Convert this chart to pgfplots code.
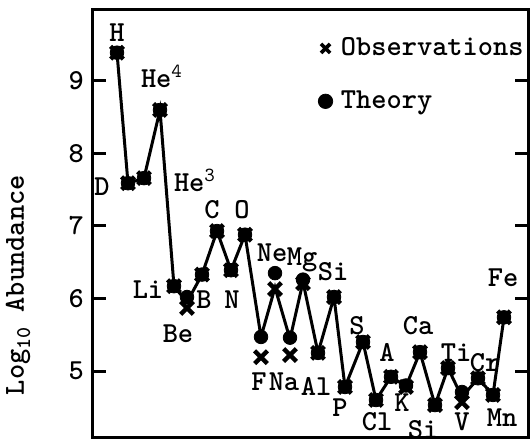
\documentclass[border=0pt]{standalone}
\usepackage{pgfplots}
\pgfplotsset{compat=1.18}
\newcommand{\lab}{\fontsize{14.5}{17}\selectfont\ttfamily\bfseries}
\pgfplotstableread{
x    obs   th    ln
117  9.39  9.39  9.39
128  7.59  7.59  7.59
144  7.66  7.66  7.66
160  8.60  8.60  8.60
174  6.17  6.17  6.17
187  5.87  6.02  5.95
202  6.33  6.33  6.33
217  6.93  6.93  6.93
231  6.39  6.39  6.39
245  6.88  6.88  6.88
261  5.19  5.47  5.47
275  6.13  6.35  6.15
290  5.22  5.46  5.44
303  6.21  6.26  6.23
318  5.25  5.25  5.25
334  6.02  6.02  6.02
345  4.78  4.78  4.78
363  5.40  5.40  5.40
376  4.60  4.60  4.60
391  4.92  4.92  4.92
406  4.78  4.80  4.79
420  5.26  5.26  5.26
435  4.53  4.53  4.53
448  5.04  5.04  5.04
462  4.57  4.71  4.64
478  4.90  4.90  4.90
493  4.67  4.67  4.67
504  5.74  5.74  5.74
}\abund
\begin{document}
\begin{tikzpicture}
\begin{axis}[
  scale only axis, width=217.5pt, height=214pt,
  xmin=93, xmax=528, ymin=4.076, ymax=9.979,
  xtick=\empty,
  ytick={5,6,7,8,9},
  ytick pos=both,
  yticklabel pos=left,
  tick align=inside,
  major tick length=6.5pt,
  tick style={line width=1.5pt, black},
  axis line style={line width=1.5pt},
  yticklabel style={font=\lab, xshift=-1pt},
  /pgf/number format/assume math mode=true,
  clip=false,
  legend style={draw=none, fill=none, at={(rel axis cs:0.514,0.945)}, anchor=north west,
    font=\lab, row sep=12pt, inner sep=0pt},
  legend cell align=left,
]
\addplot[black, line width=1.5pt, forget plot] table[x=x, y=ln] {\abund};
\addplot[only marks, black, mark=x, mark size=4.5pt, line width=2.2pt,
  legend image code/.code={\path[draw=none] (-0.15cm,0) -- (0.2cm,0);
    \draw[black, mark=x, mark size=3.2pt, line width=1.8pt] plot coordinates {(0cm,0cm)};}]
  table[x=x, y=obs] {\abund};
\addlegendentry{Observations}
\addplot[only marks, black, mark=*, mark size=3.4pt,
  legend image code/.code={\path[draw=none] (-0.15cm,0) -- (0.2cm,0);
    \draw[black, fill=black, mark=*, mark size=3.6pt] plot coordinates {(0cm,0cm)};}]
  table[x=x, y=th] {\abund};
\addlegendentry{Theory}

\node[font=\lab] at (axis cs:117,9.66) {H};
\node[font=\lab] at (axis cs:102,7.54) {D};
\node[font=\lab] at (axis cs:162,9.06) {He$^{\mathtt{4}}$};
\node[font=\lab] at (axis cs:195,7.63) {He$^{\mathtt{3}}$};
\node[font=\lab] at (axis cs:148,6.12) {Li};
\node[font=\lab] at (axis cs:178,5.52) {Be};
\node[font=\lab] at (axis cs:204,5.98) {B};
\node[font=\lab] at (axis cs:212,7.22) {C};
\node[font=\lab] at (axis cs:232,5.98) {N};
\node[font=\lab] at (axis cs:242,7.22) {O};
\node[font=\lab] at (axis cs:272,6.63) {Ne};
\node[font=\lab] at (axis cs:302,6.53) {Mg};
\node[font=\lab] at (axis cs:333,6.37) {Si};
\node[font=\lab] at (axis cs:259,4.86) {F};
\node[font=\lab] at (axis cs:284,4.85) {Na};
\node[font=\lab] at (axis cs:316,4.78) {Al};
\node[font=\lab] at (axis cs:340,4.50) {P};
\node[font=\lab] at (axis cs:357,5.63) {S};
\node[font=\lab] at (axis cs:377,4.30) {Cl};
\node[font=\lab] at (axis cs:387,5.25) {A};
\node[font=\lab] at (axis cs:402,4.56) {K};
\node[font=\lab] at (axis cs:418,5.63) {Ca};
\node[font=\lab] at (axis cs:423,4.19) {Si};
\node[font=\lab] at (axis cs:456,5.26) {Ti};
\node[font=\lab] at (axis cs:485,5.11) {Cr};
\node[font=\lab] at (axis cs:462,4.30) {V};
\node[font=\lab] at (axis cs:502,4.35) {Mn};
\node[font=\lab] at (axis cs:503,6.28) {Fe};

\node[rotate=90, font=\lab] at (rel axis cs:-0.172,0.357)
  {Log\raisebox{-0.5ex}{\fontsize{10.5}{12}\selectfont 10}\ Abundance};
\end{axis}
\pgfresetboundingbox
\path ([shift={(-46.5pt,-3pt)}]current axis.south west) rectangle ([shift={(1pt,5pt)}]current axis.north east);
\end{tikzpicture}
\end{document}
